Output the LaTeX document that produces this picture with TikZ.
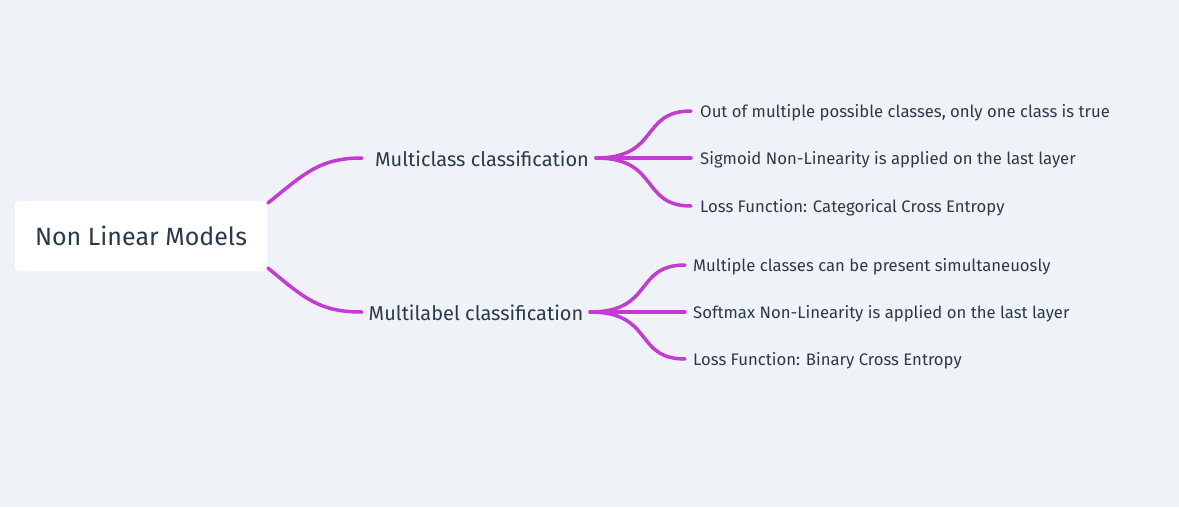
\documentclass[tikz,border=0pt]{standalone}
\usepackage{fontspec}
\setmainfont{Fira Sans}
\definecolor{bg}{HTML}{EFF3F7}
\definecolor{txt}{HTML}{2B3A4A}
\definecolor{edge}{HTML}{C43BD2}
\begin{document}
\begin{tikzpicture}[x=1pt,y=-1pt,
  rootbox/.style={fill=white,rounded corners=4pt,minimum width=252pt,minimum height=70pt,inner sep=0pt},
  roottext/.style={inner sep=0pt,anchor=base,text=txt,font=\fontsize{25}{30}\selectfont},
  midtext/.style={inner sep=0pt,anchor=base,text=txt,font=\fontsize{20}{24}\selectfont},
  leaftext/.style={inner sep=0pt,anchor=base west,text=txt,font=\fontsize{16.7}{20}\selectfont},
  link/.style={draw=edge,line width=3.5pt,line cap=round}]
\fill[bg] (0,0) rectangle (1179,507);
\useasboundingbox (0,0) rectangle (1179,507);
\node[rootbox] (root) at (141,236) {};
\node[roottext] (rootlabel) at (141,245) {Non Linear Models};
\node[midtext] (mc) at (482,166) {Multiclass classification};
\node[midtext] (ml) at (476,320) {Multilabel classification};
\node[leaftext] (a1) at (700,117) {Out of multiple possible classes, only one class is true};
\node[leaftext] (a2) at (700,164) {Sigmoid Non-Linearity is applied on the last layer};
\node[leaftext] (a3) at (700,212) {Loss Function: Categorical Cross Entropy};
\node[leaftext] (b1) at (693,271) {Multiple classes can be present simultaneuosly};
\node[leaftext] (b2) at (693,318) {Softmax Non-Linearity is applied on the last layer};
\node[leaftext] (b3) at (693,365) {Loss Function: Binary Cross Entropy};
\coordinate (r1) at (268,203);
\coordinate (r2) at (268,268);
\coordinate (mcin) at (362,158);
\coordinate (mlin) at (362,312);
\coordinate (mcout) at (596,158);
\coordinate (mlout) at (590,312);
\coordinate (a1in) at (691,111);
\coordinate (a2in) at (691,158);
\coordinate (a3in) at (691,206);
\coordinate (b1in) at (685,265);
\coordinate (b2in) at (685,312);
\coordinate (b3in) at (685,359);
\draw[link] (r1) .. controls (305,173) and (320,158) .. (mcin);
\draw[link] (r2) .. controls (305,299) and (320,312) .. (mlin);
\draw[link] (mcout) .. controls (660,158) and (640,111) .. (a1in);
\draw[link] (mcout) -- (a2in);
\draw[link] (mcout) .. controls (660,158) and (640,206) .. (a3in);
\draw[link] (mlout) .. controls (654,312) and (634,265) .. (b1in);
\draw[link] (mlout) -- (b2in);
\draw[link] (mlout) .. controls (654,312) and (634,359) .. (b3in);
\end{tikzpicture}
\end{document}
